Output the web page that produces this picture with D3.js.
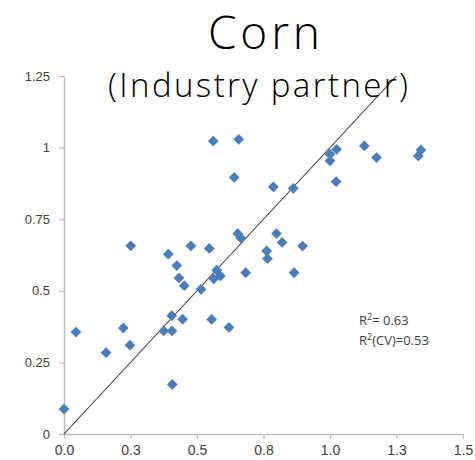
<!DOCTYPE html>
<html>
<head>
<meta charset="utf-8">
<script src="https://cdn.jsdelivr.net/npm/d3@7"></script>
<style>
  html, body { margin: 0; padding: 0; background: #fff; }
  svg { display: block; }
</style>
</head>
<body>
<svg id="chart" width="475" height="460"></svg>
<script>
// Measured vs. predicted values (corn, industry partner data set)
const measured = [
  0.000, 0.045, 0.158, 0.223, 0.248, 0.251, 0.375, 0.392, 0.405, 0.406,
  0.407, 0.424, 0.432, 0.446, 0.452, 0.477, 0.515, 0.546, 0.555, 0.561,
  0.563, 0.574, 0.588, 0.620, 0.640, 0.653, 0.665, 0.657, 0.683, 0.762,
  0.765, 0.787, 0.799, 0.820, 0.862, 0.865, 0.897, 1.000, 1.000, 1.025,
  1.023, 1.129, 1.175, 1.342, 1.332
];
const predicted = [
  0.087, 0.356, 0.284, 0.370, 0.310, 0.657, 0.360, 0.628, 0.413, 0.360,
  0.173, 0.588, 0.545, 0.401, 0.518, 0.657, 0.505, 0.648, 0.400, 1.023,
  0.542, 0.572, 0.552, 0.372, 0.896, 0.700, 0.684, 1.029, 0.563, 0.639,
  0.612, 0.863, 0.700, 0.669, 0.858, 0.563, 0.656, 0.977, 0.954, 0.994,
  0.881, 1.006, 0.965, 0.992, 0.971
];

const xTickValues = [0, 0.25, 0.5, 0.75, 1.0, 1.25, 1.5];
const xTickLabels = ["0.0", "0.3", "0.5", "0.8", "1.0", "1.3", "1.5"];
const yTickValues = [0, 0.25, 0.5, 0.75, 1.0, 1.25];
const yTickLabels = ["0", "0.25", "0.5", "0.75", "1", "1.25"];

const oneToOne = [0, 1.25];
const statsLines = [
  { base: "R", sup: "2", rest: "= 0.63" },
  { base: "R", sup: "2", rest: "(CV)=0.53" }
];

const svg = d3.select("#chart");

const x = d3.scaleLinear().domain([0, 1.5]).range([64, 463]);
const y = d3.scaleLinear().domain([0, 1.25]).range([434, 76]);

const axisColor = "#bfbfbf";
const labelColor = "#404040";

// Y axis
const yAxis = svg.append("g")
  .attr("transform", `translate(${x(0)},0)`)
  .call(d3.axisLeft(y)
    .tickValues(yTickValues)
    .tickFormat((d, i) => yTickLabels[i])
    .tickSizeInner(5)
    .tickSizeOuter(0)
    .tickPadding(9));

// X axis
const xAxis = svg.append("g")
  .attr("transform", `translate(0,${y(0)})`)
  .call(d3.axisBottom(x)
    .tickValues(xTickValues)
    .tickFormat((d, i) => xTickLabels[i])
    .tickSizeInner(5)
    .tickSizeOuter(0)
    .tickPadding(6));

[yAxis, xAxis].forEach(g => {
  g.select(".domain").attr("stroke", axisColor).attr("stroke-width", 1.5);
  g.selectAll(".tick line").attr("stroke", axisColor).attr("stroke-width", 1.2);
  g.selectAll(".tick text")
    .attr("fill", labelColor)
    .style("font-family", "'Liberation Sans', Arial, sans-serif")
    .style("font-size", "13px");
});
xAxis.selectAll(".tick text").style("font-size", "14px");

// 1:1 line
svg.append("line")
  .attr("x1", x(oneToOne[0])).attr("y1", y(oneToOne[0]))
  .attr("x2", x(oneToOne[1])).attr("y2", y(oneToOne[1]))
  .attr("stroke", "#3a3a3a")
  .attr("stroke-width", 1.1);

// Diamond markers
const diamond = d3.symbol().type(d3.symbolSquare).size(58);
svg.append("g")
  .selectAll("path")
  .data(measured.map((m, i) => [m, predicted[i]]))
  .join("path")
  .attr("d", diamond)
  .attr("transform", d => `translate(${x(d[0])},${y(d[1])}) rotate(45)`)
  .attr("fill", "#4a7ebb");

// Fit statistics
const stats = svg.append("g")
  .style("font-family", "'Open Sans', 'Liberation Sans', sans-serif")
  .style("font-size", "13px")
  .attr("fill", labelColor);
statsLines.forEach((s, i) => {
  const t = stats.append("text")
    .attr("x", 359)
    .attr("y", 325 + i * 20);
  t.append("tspan").text(s.base);
  t.append("tspan").attr("dy", -5).style("font-size", "9px").text(s.sup);
  t.append("tspan").attr("dy", 5).text(s.rest);
});

// Title
const titleFont = "'Open Sans', 'DejaVu Sans', sans-serif";
svg.append("text")
  .attr("x", 264).attr("y", 49)
  .attr("text-anchor", "middle")
  .style("font-family", titleFont)
  .style("font-weight", 300)
  .style("font-size", "46px")
  .attr("fill", "#000")
  .attr("textLength", 112)
  .text("Corn");

svg.append("text")
  .attr("x", 258).attr("y", 97)
  .attr("text-anchor", "middle")
  .style("font-family", titleFont)
  .style("font-weight", 300)
  .style("font-size", "33px")
  .attr("fill", "#000")
  .attr("textLength", 300)
  .text("(Industry partner)");
</script>
</body>
</html>
